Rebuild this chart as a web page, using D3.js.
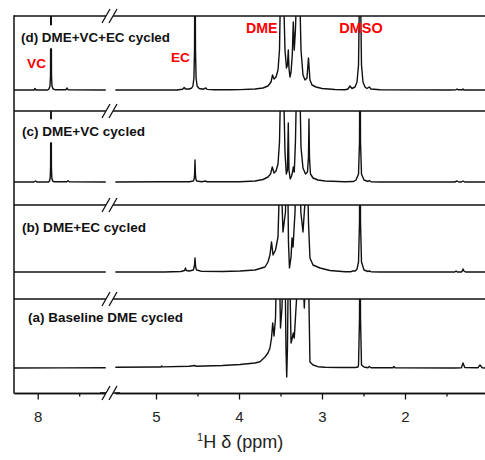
<!DOCTYPE html>
<html><head><meta charset="utf-8">
<script src="https://cdn.jsdelivr.net/npm/d3@7/dist/d3.min.js"></script>
<style>body{margin:0;background:#fff}</style>
</head><body>
<script>
// ---------------- DATA ----------------
const panelLabels = ["(d) DME+VC+EC cycled", "(c) DME+VC cycled", "(b) DME+EC cycled", "(a) Baseline DME cycled"];

// [ppm, intensity (a.u.)]
const specD = [
  [8.29,0],[8.045,0],[8.033,1.5],[8.02,0],[7.88,0],[7.865,1],[7.852,4],[7.846,14],[7.840,150],[7.834,14],[7.828,4],[7.815,1],[7.79,0.3],[7.66,0.3],[7.647,2],[7.635,0.3],[7.18,0],
  [5.49,0],[4.75,0],[4.68,0.8],[4.66,2.5],[4.645,1],[4.60,1],[4.57,2],[4.555,4],[4.543,12],[4.536,40],[4.530,150],[4.524,40],[4.517,12],[4.505,4],[4.48,1.5],[4.43,0.8],[4.40,2],[4.385,0.6],[4.30,0.3],[4.1,0.2],
  [3.988,0.4],[3.807,1],[3.711,2],[3.651,4],[3.614,8],[3.596,15],[3.578,11],[3.554,13],[3.530,20],[3.512,40],[3.500,100],[3.482,200],[3.464,100],[3.446,40],[3.428,22],[3.416,25],[3.406,40],[3.398,22],[3.386,13],[3.373,18],[3.358,35],[3.346,68],[3.334,40],[3.320,60],[3.301,110],[3.286,200],[3.272,110],[3.253,40],[3.229,15],[3.205,10],[3.181,12],[3.163,32],[3.145,10],[3.120,5],[3.072,3],[3.0,1.5],[2.843,0.5],[2.723,0.3],
  [2.687,1],[2.663,4],[2.639,1.5],[2.602,3],[2.578,8],[2.560,25],[2.548,100],[2.542,200],[2.536,100],[2.524,25],[2.506,8],[2.482,3],[2.458,1.5],[2.430,3],[2.410,1],[2.301,0.3],[1.458,0],[1.385,0.3],[1.373,1],[1.36,0.2],[1.31,0.2],[1.301,1],[1.29,0],[1.036,0]
];
const specC = [
  [8.29,0],[8.045,0],[8.025,1],[8.01,0],[7.87,0],[7.858,1],[7.850,4],[7.845,15],[7.840,150],[7.835,15],[7.830,4],[7.82,1],[7.80,0.2],[7.65,0.2],[7.635,1.2],[7.62,0.2],[7.18,0],
  [5.49,0],[4.9,0.2],[4.6,0.3],[4.55,1],[4.54,3],[4.535,8],[4.530,22],[4.525,8],[4.52,3],[4.51,1],[4.45,0.3],[4.40,1],[4.39,0.3],[4.1,0.3],
  [3.988,0.3],[3.807,1],[3.711,2.5],[3.651,5],[3.620,8],[3.599,15],[3.578,9],[3.554,11],[3.530,18],[3.512,40],[3.498,100],[3.482,200],[3.464,100],[3.446,30],[3.430,8],[3.416,12],[3.406,59],[3.398,12],[3.383,3],[3.367,6],[3.355,10],[3.346,15],[3.334,10],[3.320,40],[3.301,120],[3.286,200],[3.272,120],[3.253,35],[3.229,14],[3.199,8],[3.175,10],[3.163,25],[3.157,63],[3.151,25],[3.139,8],[3.108,4],[3.048,2],[2.964,1],[2.723,0.3],
  [2.62,0.5],[2.590,2],[2.560,8],[2.548,40],[2.542,200],[2.536,40],[2.524,8],[2.494,2],[2.446,0.5],[2.430,1.5],[2.41,0.3],[2.30,0],[1.40,0],[1.373,1],[1.35,0],[1.32,0],[1.301,1],[1.28,0],[1.036,0]
];
const specB = [
  [8.29,0],[7.18,0],
  [5.49,0],[4.9,0],[4.70,0.5],[4.655,1.5],[4.645,4],[4.635,1.5],[4.6,1],[4.55,2],[4.54,5],[4.535,8],[4.530,14],[4.525,8],[4.52,4],[4.51,2],[4.45,0.6],[4.2,0.5],
  [3.988,1],[3.807,2],[3.747,3.5],[3.687,5],[3.651,10],[3.627,17],[3.608,30],[3.590,17],[3.560,22],[3.530,35],[3.518,70],[3.509,120],[3.500,200],[3.491,120],[3.482,70],[3.470,40],[3.440,60],[3.428,120],[3.422,150],[3.416,120],[3.404,30],[3.392,4],[3.373,15],[3.361,34],[3.349,25],[3.325,60],[3.301,150],[3.289,200],[3.277,150],[3.255,60],[3.229,40],[3.205,70],[3.184,150],[3.163,50],[3.145,14],[3.108,7],[3.024,4],[2.904,1.5],[2.723,0.3],
  [2.65,0.3],[2.63,1],[2.6,1],[2.578,3],[2.560,10],[2.548,50],[2.542,200],[2.536,50],[2.524,10],[2.494,2],[2.446,0.5],[2.430,1],[2.41,0.3],[2.3,0],[1.40,0],[1.385,1],[1.37,0],[1.32,0],[1.31,1],[1.301,3],[1.29,1],[1.27,0],[1.036,0]
];
const specA = [
  [8.29,0],[7.7,0.1],[7.18,0.3],
  [5.49,0.7],[5.0,1],[4.94,1],[4.93,2],[4.92,1.1],[4.60,1.8],[4.53,2.5],[4.52,1.8],[4.2,2.5],[3.988,3.5],[3.807,5],[3.747,6.3],[3.687,11],[3.651,15],[3.627,20],[3.608,30],[3.594,45],[3.578,32],[3.560,50],
  [3.546,110],[3.530,200],[3.515,110],[3.500,40],[3.482,60],[3.470,110],[3.458,200],[3.446,110],[3.434,20],[3.425,-9],[3.416,20],[3.406,100],[3.398,200],[3.390,100],[3.373,25],[3.358,30],[3.346,35],[3.334,30],[3.313,60],[3.277,110],[3.255,200],[3.237,110],[3.213,60],[3.190,110],[3.175,200],[3.160,80],[3.145,6],[3.108,3],[3.048,1.3],[2.964,0.8],[2.783,0.5],
  [2.60,0.5],[2.566,1],[2.560,3],[2.548,50],[2.542,200],[2.536,50],[2.524,3],[2.494,1],[2.446,0.3],[2.430,1.5],[2.41,0.2],[2.145,0.2],[2.133,1.5],[2.12,0.2],[1.40,0],[1.32,0.3],[1.301,5],[1.28,0.5],[1.12,0.3],[1.096,3],[1.07,0.3],[1.036,0]
];
const spectra = [specD, specC, specB, specA];

const peakNames = ["VC", "EC", "DME", "DMSO"];
const peakNamePpm = [8.014, 4.705, 3.725, 2.530];
const peakNameLevel = [22, 28, 57, 57];

const majorTicks = [8, 5, 4, 3, 2];
const minorTicks = [7.5, 4.5, 3.5, 2.5, 1.5];
const xTitle = "H \u03b4 (ppm)";
const xTitleSup = "1";

// ---------------- LAYOUT ----------------
const W = 485, H = 460;
const left = 14, right = 485, plotTop = 16, plotBottom = 393;
const panelTops = [16, 111, 205, 299];
const panelBottoms = [111, 205, 299, 393];
const baselines = [90, 182, 272, 368];
const labelX = [21, 22, 22, 28];
const labelWidth = [149, 123, 124, 155];
const labelBase = [42.3, 136.3, 231.5, 321.8];
const peakNameWidth = [19, 19, 31.5, 43.5];
const breakX = 102;
const FONT = "'Liberation Sans', Arial, Helvetica, sans-serif";

const xL = d3.scaleLinear().domain([8.286, 7.177]).range([left, 106]);
const xR = d3.scaleLinear().domain([5.494, 1.036]).range([115, right]);
const xOf = p => p > 6 ? xL(p) : xR(p);

const svg = d3.select("body").append("svg").attr("width", W).attr("height", H)
  .style("font-family", FONT);

const ink = "#111";

// fit a text element's font size so that its width equals target
function fitWidth(sel, base, target) {
  sel.attr("font-size", base);
  const w = sel.node().getComputedTextLength();
  if (w > 0) sel.attr("font-size", base * target / w);
}

// spectra
spectra.forEach((spec, i) => {
  const y = d3.scaleLinear().domain([0, 72]).range([baselines[i], baselines[i] - 72]);
  const clipId = "clip" + i;
  svg.append("clipPath").attr("id", clipId).append("rect")
    .attr("x", left).attr("y", panelTops[i]).attr("width", right - left).attr("height", panelBottoms[i] - panelTops[i]);
  const g = svg.append("g").attr("clip-path", `url(#${clipId})`);
  const line = d3.line().x(d => xOf(d[0])).y(d => y(d[1]));
  const segs = [spec.filter(d => d[0] > 6), spec.filter(d => d[0] <= 6)];
  segs.forEach(s => g.append("path").attr("d", line(s)).attr("fill", "none")
    .attr("stroke", ink).attr("stroke-width", 1.4).attr("stroke-linejoin", "round"));
});

// panel labels with white boxes
panelLabels.forEach((t, i) => {
  const g = svg.append("g");
  const rect = g.append("rect").attr("fill", "#fff");
  const txt = g.append("text").attr("x", labelX[i]).attr("y", labelBase[i])
    .attr("font-weight", "bold").attr("fill", ink).text(t);
  fitWidth(txt, 13.4, labelWidth[i]);
  const bb = txt.node().getBBox();
  rect.attr("x", bb.x - 4).attr("y", labelBase[i] - 17).attr("width", bb.width + 8).attr("height", 23);
});

// peak names (red)
const yD = d3.scaleLinear().domain([0, 72]).range([baselines[0], baselines[0] - 72]);
peakNames.forEach((t, i) => {
  const txt = svg.append("text").attr("x", xOf(peakNamePpm[i])).attr("y", yD(peakNameLevel[i]))
    .attr("text-anchor", "middle").attr("font-weight", "bold")
    .attr("fill", "#ff0000").text(t);
  fitWidth(txt, 14.3, peakNameWidth[i]);
});

// frame
const frame = svg.append("g").attr("stroke", ink).attr("stroke-width", 1.5).attr("fill", "none");
panelTops.forEach(yy => frame.append("line").attr("x1", left).attr("x2", right).attr("y1", yy).attr("y2", yy));
frame.append("line").attr("x1", left).attr("x2", left).attr("y1", plotTop - 0.75).attr("y2", plotBottom + 0.75);

// x axis (two segments)
function addAxis(scale, majors, minors) {
  const gMaj = svg.append("g").attr("transform", `translate(0,${plotBottom})`)
    .call(d3.axisBottom(scale).tickValues(majors).tickFormat(d3.format("d")).tickSize(6.5).tickPadding(12).tickSizeOuter(0));
  const gMin = svg.append("g").attr("transform", `translate(0,${plotBottom})`)
    .call(d3.axisBottom(scale).tickValues(minors).tickFormat("").tickSize(3.5).tickSizeOuter(0));
  [gMaj, gMin].forEach(g => {
    g.select(".domain").attr("stroke", ink).attr("stroke-width", 1.5);
    g.selectAll(".tick line").attr("stroke", ink).attr("stroke-width", 1.3);
    g.selectAll("text").attr("font-size", 15).attr("fill", "#222").style("font-family", FONT);
  });
}
addAxis(xL, majorTicks.filter(d => d > 6), minorTicks.filter(d => d > 6));
addAxis(xR, majorTicks.filter(d => d < 6), minorTicks.filter(d => d < 6));
frame.append("line").attr("x1", 100).attr("x2", 120).attr("y1", plotBottom).attr("y2", plotBottom);

// break marks
[...panelTops, plotBottom].forEach(yy => {
  const dx = 8, dy = 7, x0 = breakX, gap = 7;
  svg.append("path").attr("fill", "#fff")
    .attr("d", `M${x0},${yy + dy}L${x0 + dx},${yy - dy}L${x0 + gap + dx},${yy - dy}L${x0 + gap},${yy + dy}Z`);
  [x0, x0 + gap].forEach(xs => svg.append("line").attr("x1", xs).attr("y1", yy + dy)
    .attr("x2", xs + dx).attr("y2", yy - dy).attr("stroke", ink).attr("stroke-width", 1.3));
});

// axis title
const tt = svg.append("text").attr("x", 197).attr("y", 448).attr("text-anchor", "start")
  .attr("font-size", 18).attr("fill", "#222");
tt.append("tspan").attr("font-size", 11).attr("dy", -7.5).text(xTitleSup);
tt.append("tspan").attr("dy", 7.5).text(xTitle);
</script>
</body></html>
